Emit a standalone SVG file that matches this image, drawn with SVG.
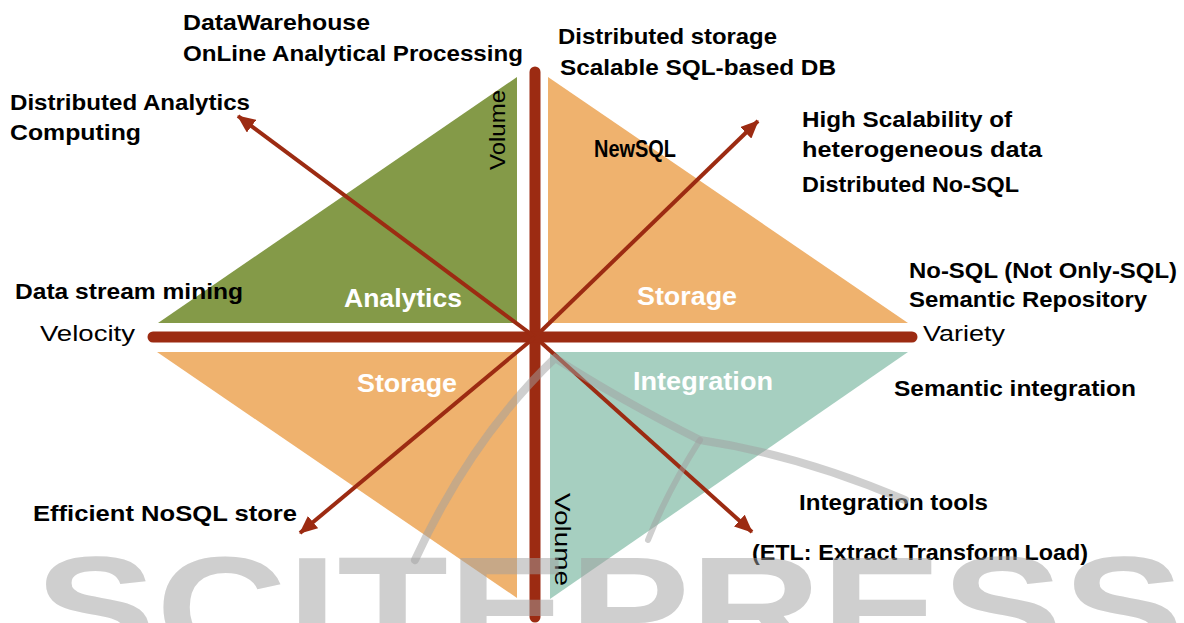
<svg xmlns="http://www.w3.org/2000/svg" width="1184" height="623" viewBox="0 0 1184 623">
  <style>
    .lbl { font-family: "Liberation Sans", Arial, sans-serif; font-weight: bold; font-size: 22px; fill: #000; }
    .area { font-family: "Liberation Sans", Arial, sans-serif; font-weight: bold; font-size: 25px; fill: #fff; }
    .axis { font-family: "Liberation Sans", Arial, sans-serif; font-size: 22px; fill: #000; }
    .bar { stroke: #9c2b12; stroke-width: 11; stroke-linecap: round; fill: none; }
    .arrow { stroke: #9c2b12; stroke-width: 4; fill: none; marker-end: url(#head); }
    .wm { fill: #a0a0a0; opacity: 0.5; }
    .swoosh { stroke: #a0a0a0; opacity: 0.5; fill: none; stroke-linecap: round; }
  </style>
  <defs>
    <marker id="head" markerUnits="userSpaceOnUse" viewBox="0 0 18 16" refX="17" refY="8" markerWidth="18" markerHeight="16" orient="auto">
      <path d="M0,0 L18,8 L0,16 Z" fill="#9c2b12"/>
    </marker>
  </defs>

  <rect width="1184" height="623" fill="#fff"/>

  <!-- quadrant areas -->
  <g id="analytics">
    <polygon points="158,323 517,323 517,77" fill="#849a48"/>
    <text class="area" x="344" y="307" textLength="118" lengthAdjust="spacingAndGlyphs">Analytics</text>
    <text class="axis" transform="translate(505,170) rotate(-90)" textLength="80" lengthAdjust="spacingAndGlyphs">Volume</text>
  </g>
  <g id="storage-newsql">
    <polygon points="548,77 548,323 908,323" fill="#efb26e"/>
    <text class="lbl" x="594" y="157" style="font-size:24px" textLength="82" lengthAdjust="spacingAndGlyphs">NewSQL</text>
    <text class="area" x="637" y="305" textLength="100" lengthAdjust="spacingAndGlyphs">Storage</text>
  </g>
  <g id="storage-nosql">
    <polygon points="157,352 517,352 517,598" fill="#efb26e"/>
    <text class="area" x="357" y="392" textLength="100" lengthAdjust="spacingAndGlyphs">Storage</text>
  </g>
  <g id="integration">
    <polygon points="550,352 908,352 550,599" fill="#a6cfc0"/>
    <text class="area" x="633" y="390" textLength="140" lengthAdjust="spacingAndGlyphs">Integration</text>
    <text class="axis" transform="translate(555,493) rotate(90)" textLength="93" lengthAdjust="spacingAndGlyphs">Volume</text>
  </g>

  <!-- axes and arrows -->
  <g id="connectors">
    <line class="bar" x1="535" y1="72" x2="535" y2="617"/>
    <line class="bar" x1="153" y1="337" x2="912" y2="337"/>
    <line class="arrow" x1="535" y1="337" x2="238" y2="116"/>
    <line class="arrow" x1="535" y1="337" x2="758" y2="121"/>
    <line class="arrow" x1="535" y1="337" x2="300" y2="533"/>
    <line class="arrow" x1="535" y1="337" x2="752" y2="532"/>
  </g>

  <!-- axis names -->
  <g id="velocity"><text class="axis" x="40" y="341" textLength="95" lengthAdjust="spacingAndGlyphs">Velocity</text></g>
  <g id="variety"><text class="axis" x="923" y="341" textLength="82" lengthAdjust="spacingAndGlyphs">Variety</text></g>

  <!-- outer annotations -->
  <g id="dw-olap">
    <text class="lbl" x="183" y="30" textLength="187" lengthAdjust="spacingAndGlyphs">DataWarehouse</text>
    <text class="lbl" x="183" y="61" textLength="340" lengthAdjust="spacingAndGlyphs">OnLine Analytical Processing</text>
  </g>
  <g id="distributed-storage">
    <text class="lbl" x="558" y="44" textLength="219" lengthAdjust="spacingAndGlyphs">Distributed storage</text>
    <text class="lbl" x="560" y="75" textLength="276" lengthAdjust="spacingAndGlyphs">Scalable SQL-based DB</text>
  </g>
  <g id="distributed-analytics">
    <text class="lbl" x="10" y="110" textLength="240" lengthAdjust="spacingAndGlyphs">Distributed Analytics</text>
    <text class="lbl" x="10" y="140" textLength="131" lengthAdjust="spacingAndGlyphs">Computing</text>
  </g>
  <g id="high-scalability">
    <text class="lbl" x="802" y="127" textLength="210" lengthAdjust="spacingAndGlyphs">High Scalability of</text>
    <text class="lbl" x="802" y="157" textLength="240" lengthAdjust="spacingAndGlyphs">heterogeneous data</text>
    <text class="lbl" x="802" y="192" textLength="217" lengthAdjust="spacingAndGlyphs">Distributed No-SQL</text>
  </g>
  <g id="stream-mining">
    <text class="lbl" x="15" y="299" textLength="228" lengthAdjust="spacingAndGlyphs">Data stream mining</text>
  </g>
  <g id="nosql-semantic">
    <text class="lbl" x="909" y="278" textLength="268" lengthAdjust="spacingAndGlyphs">No-SQL (Not Only-SQL)</text>
    <text class="lbl" x="909" y="307" textLength="238" lengthAdjust="spacingAndGlyphs">Semantic Repository</text>
  </g>
  <g id="semantic-integration">
    <text class="lbl" x="894" y="396" textLength="242" lengthAdjust="spacingAndGlyphs">Semantic integration</text>
  </g>
  <g id="integration-tools">
    <text class="lbl" x="799" y="510" textLength="189" lengthAdjust="spacingAndGlyphs">Integration tools</text>
    <text class="lbl" x="752" y="560" textLength="336" lengthAdjust="spacingAndGlyphs">(ETL: Extract Transform Load)</text>
  </g>
  <g id="nosql-store">
    <text class="lbl" x="33" y="521" textLength="264" lengthAdjust="spacingAndGlyphs">Efficient NoSQL store</text>
  </g>

  <!-- publisher watermark -->
  <g id="watermark">
    <path class="swoosh" stroke-width="8" d="M415,560 Q470,440 555,358 Q620,400 700,440 Q800,455 905,500"/>
    <path class="swoosh" stroke-width="6" d="M700,440 Q668,490 648,540"/>
    <text class="wm" x="35" y="658" font-family="Liberation Sans, Arial, sans-serif" font-weight="bold" font-size="145" textLength="1149" lengthAdjust="spacingAndGlyphs">SCITEPRESS</text>
  </g>
</svg>
